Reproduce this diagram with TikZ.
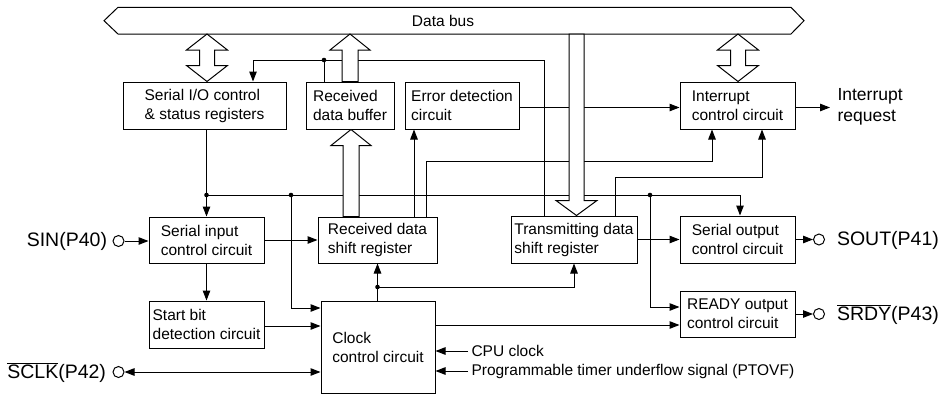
\documentclass[tikz,border=0pt]{standalone}
\usepackage{fontspec}
\setmainfont{Liberation Sans}
\usetikzlibrary{arrows.meta,calc}
\newcommand{\hollowdbl}[3]{%
 \filldraw[hollow] (#1,#2) -- ({#1+20.5},{#2+16}) -- ({#1+7.5},{#2+16}) -- ({#1+7.5},{#3-16}) -- ({#1+20.5},{#3-16}) -- (#1,#3) -- ({#1-20.5},{#3-16}) -- ({#1-7.5},{#3-16}) -- ({#1-7.5},{#2+16}) -- ({#1-20.5},{#2+16}) -- cycle;}
\newcommand{\hollowupa}[3]{%
 \filldraw[hollow] (#1,#2) -- ({#1+20},{#2+16}) -- ({#1+8},{#2+16}) -- ({#1+8},#3) -- ({#1-8},#3) -- ({#1-8},{#2+16}) -- ({#1-20},{#2+16}) -- cycle;}
\newcommand{\hollowdowna}[3]{%
 \filldraw[hollow] (#1,#3) -- ({#1+20.5},{#3-15}) -- ({#1+7.5},{#3-15}) -- ({#1+7.5},#2) -- ({#1-7.5},#2) -- ({#1-7.5},{#3-15}) -- ({#1-20.5},{#3-15}) -- cycle;}
\begin{document}
\begin{tikzpicture}[x=1pt,y=-1pt,line width=1pt,
  blk/.style={draw,inner sep=0pt,align=left,font=\fontsize{15.5pt}{19pt}\selectfont},
  lbl/.style={inner sep=0pt,font=\fontsize{15.5pt}{19pt}\selectfont},
  pinlbl/.style={inner sep=0pt,font=\fontsize{19.5pt}{22pt}\selectfont},
  pinc/.style={draw,circle,inner sep=0pt,minimum size=11pt},
  arr/.style={-{Triangle[length=10pt,width=7.5pt]}},
  arrb/.style={{Triangle[length=10pt,width=7.5pt]}-{Triangle[length=10pt,width=7.5pt]}},
  hollow/.style={draw,fill=white,line width=1pt},
  dot/.style={fill,circle,inner sep=0pt,minimum size=4.6pt}]
\useasboundingbox (0,0) rectangle (943,394);
% data bus
\draw (104,20.7) -- (118,7.3) -- (791,7.3) -- (804,20.7) -- (791,34) -- (118,34) -- cycle;
\node[lbl] (bus) at (443,20.7) {Data bus};
% boxes
\node[blk,minimum width=163pt,minimum height=47pt] (sio) at (204.5,105.5) {Serial I/O control\\\& status registers};
\node[blk,minimum width=88pt,minimum height=47pt] (rdb) at (350,105.5) {Received\\data buffer};
\node[blk,minimum width=114pt,minimum height=47pt] (err) at (462,105.5) {Error detection\\circuit};
\node[blk,minimum width=115pt,minimum height=47pt] (intr) at (737.5,105.5) {Interrupt\\control circuit};
\node[blk,minimum width=115pt,minimum height=46pt] (sic) at (206.5,240) {Serial input\\control circuit};
\node[blk,minimum width=119pt,minimum height=46pt] (rdsr) at (377.5,240) {Received data\\shift register};
\node[blk,minimum width=126pt,minimum height=47pt] (tdsr) at (574,239.5) {Transmitting data\\shift register};
\node[blk,minimum width=115pt,minimum height=47pt] (soc) at (737.5,239.5) {Serial output\\control circuit};
\node[blk,minimum width=115pt,minimum height=47pt] (sbd) at (206.5,324.5) {Start bit\\detection circuit};
\node[blk,minimum width=114pt,minimum height=92pt] (clk) at (378,347) {Clock\\control circuit};
\node[blk,minimum width=115pt,minimum height=46pt] (rdy) at (737.5,314) {READY output\\control circuit};
% pins
\node[pinc] (sinc) at (118.5,241) {};
\node[pinlbl,anchor=east] (sin) at (107.5,241.5) {SIN(P40)};
\node[pinc] (sclkc) at (118.5,372) {};
\node[pinlbl,anchor=east] (sclk) at (106.5,372.5) {$\overline{\hbox{SCLK}}$(P42)};
\node[pinc] (soutc) at (819,239.5) {};
\node[pinlbl,anchor=west] (sout) at (836.5,240) {SOUT(P41)};
\node[pinc] (srdyc) at (819,314) {};
\node[pinlbl,anchor=west] (srdy) at (836.5,314.5) {$\overline{\hbox{SRDY}}$(P43)};
% external signals
\node[inner sep=0pt,anchor=west,align=left,font=\fontsize{17.5pt}{21pt}\selectfont] (irq) at (837,106.5) {Interrupt\\request};
\node[lbl,anchor=west] (cpu) at (471,351) {CPU clock};
\node[lbl,anchor=west] (ptovf) at (471,371) {Programmable timer underflow signal (PTOVF)};
% connectors
\draw[arr] (tdsr.north -| 544,0) |- (253,60) -- (sio.north -| 253,0);
\node[dot] (d0) at (324,60) {};
\draw (d0.center) -- (rdb.north -| d0);
\draw[arr] (rdsr.north -| 414,0) -- (err.south -| 414,0);
\draw[arr] (rdsr.north -| 426,0) |- (712,161) -- (intr.south -| 712,0);
\draw[arr] (err.east |- 0,107.5) -- (intr.west |- 0,107.5);
\draw[arr] (intr.east |- 0,107.5) -- ([xshift=-7pt]irq.west |- 0,107.5);
\draw[arr] (tdsr.north -| 615,0) |- (762,177) -- (intr.south -| 762,0);
\draw[arr] (sio.south -| sic.north) -- (sic.north);
\node[dot] (d1) at (sic.north |- 0,195) {};
\node[dot] (d2) at (291,195) {};
\node[dot] (d3) at (650,195) {};
\draw[arr] (d1.center) -| ([xshift=2.5pt]soc.north);
\draw[arr] (d2.center) |- (clk.west |- 0,308);
\draw[arr] (d3.center) |- (rdy.west |- 0,307);
\draw[arr] (sinc.east) -- (sic.west |- sinc.east);
\draw[arr] (sic.east) -- (rdsr.west);
\draw[arr] (sic.south) -- (sbd.north);
\draw[arr] (sbd.east |- 0,326) -- (clk.west |- 0,326);
\draw[arrb] (sclkc.east) -- (clk.west |- sclkc.east);
\draw[arr] (clk.north -| rdsr.south) -- (rdsr.south);
\node[dot] (d4) at (rdsr.south |- 0,287) {};
\draw[arr] (d4.center) -| (tdsr.south);
\draw[arr] (clk.east |- 0,325) -- (rdy.west |- 0,325);
\draw[arr] ([xshift=-3pt]cpu.west) -- (clk.east |- cpu.west);
\draw[arr] ([xshift=-3pt]ptovf.west) -- (clk.east |- ptovf.west);
\draw[arr] (tdsr.east) -- (soc.west);
\draw[arr] (soc.east) -- (soutc.west);
\draw[arr] (rdy.east) -- (srdyc.west);
% hollow bus arrows
\hollowdbl{207}{34}{81.5}
\hollowdbl{738}{34}{81.5}
\hollowupa{350}{34}{81.5}
\hollowupa{351}{129.5}{216.5}
\hollowdowna{576.5}{34}{215.5}
\end{tikzpicture}
\end{document}
